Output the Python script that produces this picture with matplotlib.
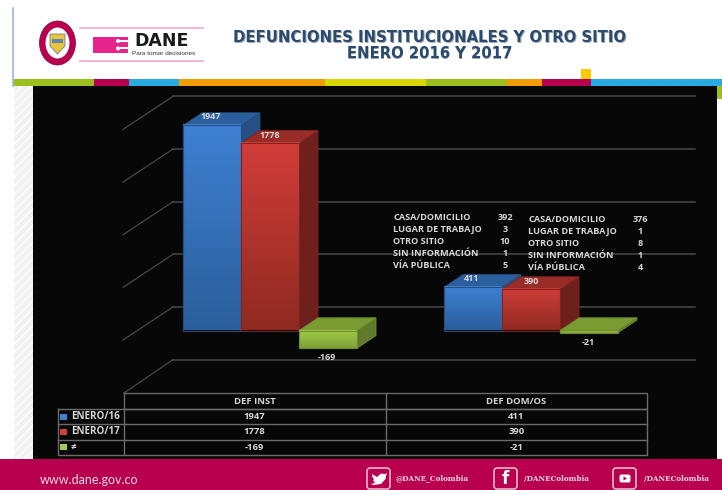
import numpy as np
import matplotlib
matplotlib.use('Agg')
import matplotlib.pyplot as plt
from matplotlib.patches import Rectangle, Ellipse, Polygon, FancyBboxPatch
from matplotlib.colors import LinearSegmentedColormap

# datos
categorias = ['DEF INST', 'DEF DOM/OS']
series = ['ENERO/16', 'ENERO/17', '≠']
enero16 = [1947, 411]
enero17 = [1778, 390]
diferencia = [-169, -21]
ticks_eje = [-500, 0, 500, 1000, 1500, 2000]

sitios = ['CASA/DOMICILIO', 'LUGAR DE TRABAJO', 'OTRO SITIO', 'SIN INFORMACIÓN', 'VÍA PÚBLICA']
sitios16 = [392, 3, 10, 1, 5]
sitios17 = [376, 1, 8, 1, 4]

titulo = ['DEFUNCIONES INSTITUCIONALES Y OTRO SITIO', 'ENERO 2016 Y 2017']

franjas = [(13, 94, '#9bbf1d'), (94, 129, '#b8004f'), (129, 179, '#29abe2'), (179, 325, '#f39c00'),
           (325, 426, '#dbd600'), (426, 507, '#9bbf1d'), (507, 542, '#f39c00'), (542, 591, '#b8004f'),
           (591, 722, '#29abe2')]

W, H = 722, 490
KY = 0.1053   # pixeles por defuncion
BASE = 330.5
BAR_W = 58.0
DX, DY = 19.0, 12.7
TXT = '#d6d6d6'

plt.rcParams['font.family'] = ['Open Sans', 'DejaVu Sans']

fig = plt.figure(figsize=(W / 100, H / 100), dpi=100, facecolor='white')

# capa de fondo en pixeles
bg = fig.add_axes([0, 0, 1, 1])
bg.set_xlim(0, W)
bg.set_ylim(H, 0)
bg.axis('off')

bg.plot([13, 13], [8, 86], color='#9db8e0', lw=1.2)
bg.add_patch(Rectangle((14, 86), 19, 373, facecolor='#f2f2f2', hatch='////', edgecolor='white', lw=0))
bg.add_patch(Rectangle((717, 86), 5, 13, color='#9bbf1d', lw=0))
for x0, x1, c in franjas:
    bg.add_patch(Rectangle((x0, 79), x1 - x0, 7, color=c, lw=0))
bg.add_patch(Rectangle((581, 69), 10, 10, color='#ffcc00', lw=0))
bg.add_patch(Rectangle((33, 86), 684, 373, color='#070707', lw=0))
bg.add_patch(Rectangle((0, 459), W, 31, color='#b8004f', lw=0))

# escudo
bg.add_patch(Ellipse((57.5, 43), 36, 44, facecolor='#b8004f', edgecolor='#8a003b', lw=0.5))
bg.add_patch(Ellipse((57.5, 43), 24, 31, facecolor='white', lw=0))
bg.add_patch(Polygon([(50, 34), (65, 34), (65, 46), (57.5, 54), (50, 46)], facecolor='#e8c53a',
                     edgecolor='#6f7f95', lw=0.6))
bg.add_patch(Rectangle((52, 39), 11, 4, color='#5b86b8', lw=0))

# logo DANE
for y in (28, 61):
    bg.plot([80, 203], [y, y], color='#f4a6c6', lw=1.2)
bg.add_patch(Rectangle((93, 37), 35, 16, color='#e6258c', lw=0))
for y in (41, 48.5):
    bg.add_patch(Rectangle((116, y - 1), 15, 2, color='white', lw=0))
    bg.add_patch(Ellipse((118, y), 4, 4, color='white', lw=0))
bg.text(162, 40.5, 'DANE', ha='center', va='center', fontsize=12.5, fontweight='black',
        family='DejaVu Sans', color='#1a1a1a')
bg.text(132, 53.5, 'Para tomar decisiones', ha='left', va='center', fontsize=4.6,
        family='Liberation Sans', color='#333333')

# titulo
for linea, y in zip(titulo, (38, 53.5)):
    bg.text(430, y + 0.6, linea, ha='center', va='center', fontsize=10.7, fontweight='bold',
            color='#9aa5b1', family='DejaVu Sans')
    bg.text(429.5, y, linea, ha='center', va='center', fontsize=10.7, fontweight='bold',
            color='#2b4a6f', family='DejaVu Sans')

# eje del grafico: x en barras, y en defunciones
ax = fig.add_axes([0, 0, 1, 1], facecolor='none')
ax.axis('off')
x_px = lambda p: (p - 183.0) / BAR_W
y_px = lambda p: (BASE - p) / KY
dx, dy = DX / BAR_W, DY / KY
sep = 261.0 / BAR_W

# pared y piso
for t in ticks_eje:
    yw = t + y_px(307)
    ax.plot([x_px(173), x_px(695)], [yw, yw], color='#484848', lw=1.1, zorder=1)
    if t == ticks_eje[0]:
        ax.plot([x_px(124), x_px(173)], [y_px(393), yw], color='#484848', lw=0.9, zorder=1)
    else:
        ax.plot([x_px(123), x_px(173)], [yw - 33 / KY, yw], color='#484848', lw=0.9, zorder=1)


def rampa(c1, c2):
    return LinearSegmentedColormap.from_list('r', [c1, c2])


def barra(x, v, frente, lado, arriba, borde, z):
    y0, y1 = min(0, v), max(0, v)
    ax.add_patch(Polygon([(x + 1, y0), (x + 1 + dx, y0 + dy), (x + 1 + dx, y1 + dy), (x + 1, y1)],
                         facecolor=lado, edgecolor=borde, lw=0.6, zorder=z))
    ax.add_patch(Polygon([(x, y1), (x + dx, y1 + dy), (x + 1 + dx, y1 + dy), (x + 1, y1)],
                         facecolor=arriba, edgecolor=borde, lw=0.6, zorder=z))
    grad = np.linspace(0, 1, 64).reshape(-1, 1)
    ax.imshow(grad, extent=(x, x + 1, y0, y1), origin='upper', aspect='auto',
              cmap=rampa(frente[0], frente[1]), zorder=z + 0.05)
    ax.add_patch(Rectangle((x, y0), 1, y1 - y0, fill=False, edgecolor=borde, lw=0.8, zorder=z + 0.1))


for i in range(len(categorias)):
    x = i * sep
    # azul primero, el rojo tapa su cara lateral
    barra(x, enero16[i], ('#3f80d2', '#2b5e9c'), '#274f85', '#2c5f9e', '#24507f', 3)
    barra(x + 1, enero17[i], ('#d13d39', '#8f2a22'), '#6e201c', '#9a2c28', '#7d2420', 4)
    barra(x + 2, diferencia[i], ('#a2cc4a', '#7f9f38'), '#5f7a2a', '#7a9a32', '#6f8c30', 5)

    ax.text(x + 0.48, enero16[i] + y_px(330.5 - 8.5), str(enero16[i]), ha='center', va='center',
            fontsize=6.5, fontweight='bold', color=TXT, zorder=8)
    ax.text(x + 1.5, enero17[i] + y_px(330.5 - 8), str(enero17[i]), ha='center', va='center',
            fontsize=6.5, fontweight='bold', color=TXT, zorder=8)
    ax.text(x + 2.48, diferencia[i] + y_px(330.5 + 9.5), str(diferencia[i]), ha='center', va='center',
            fontsize=6.5, fontweight='bold', color=TXT, zorder=8)

ax.set_xlim(x_px(0), x_px(W))
ax.set_ylim(y_px(H), y_px(0))

# desglose por sitio, encima de todo
for j, (nombre, a, b) in enumerate(zip(sitios, sitios16, sitios17)):
    y1 = 218 + j * 12
    y2 = 220 + j * 11.9
    estilo = {'ha': 'left', 'va': 'center', 'fontsize': 6.6, 'fontweight': 'bold', 'color': TXT, 'zorder': 9}
    ax.text(x_px(393), y_px(y1), nombre, **estilo)
    ax.text(x_px(505), y_px(y1), str(a), **{**estilo, 'ha': 'center'})
    ax.text(x_px(528), y_px(y2), nombre, **estilo)
    ax.text(x_px(640.5), y_px(y2), str(b), **{**estilo, 'ha': 'center'})

# tabla de datos
LINEA = '#6b6b6b'
filas_y = [409, 424, 439.5, 455]
ax2 = fig.add_axes([0, 0, 1, 1], facecolor='none')
ax2.set_xlim(0, W)
ax2.set_ylim(H, 0)
ax2.axis('off')
ax2.plot([124, 647, 647, 124, 124], [393, 393, 409, 409, 393], color=LINEA, lw=1)
ax2.plot([386, 386], [393, 455], color=LINEA, lw=1)
ax2.plot([124, 124], [409, 455], color=LINEA, lw=1)
ax2.plot([58, 647, 647, 58, 58], [409, 409, 455, 455, 409], color=LINEA, lw=1)
for y in filas_y[1:3]:
    ax2.plot([58, 647], [y, y], color=LINEA, lw=1)
ax2.text(254.5, 401.5, categorias[0], ha='center', va='center', fontsize=6.8, fontweight='bold', color=TXT)
ax2.text(516.5, 401.5, categorias[1], ha='center', va='center', fontsize=6.8, fontweight='bold', color=TXT)
colores = ['#3f80d2', '#d13d39', '#a2cc4a']
for k, (s, fila) in enumerate(zip(series, (enero16, enero17, diferencia))):
    yc = (filas_y[k] + filas_y[k + 1]) / 2
    ax2.add_patch(Rectangle((60, yc - 3), 6.5, 6, color=colores[k], lw=0))
    ax2.text(71, yc, s, ha='left', va='center', fontsize=7.1, fontweight='bold', color=TXT)
    ax2.text(254.5, yc, str(fila[0]), ha='center', va='center', fontsize=6.8, fontweight='bold', color=TXT)
    ax2.text(516.5, yc, str(fila[1]), ha='center', va='center', fontsize=6.8, fontweight='bold', color=TXT)

# pie
ax2.text(40, 479.5, 'www.dane.gov.co', ha='left', va='center', fontsize=9, color='#f3d9e4', family='Lato')
for x0, simbolo, txt, xt in [(367, '', '@DANE_Colombia', 396), (494, 'f', '/DANEColombia', 524),
                             (613, '', '/DANEColombia', 644)]:
    ax2.add_patch(FancyBboxPatch((x0 + 2, 470), 19, 17, boxstyle='round,pad=2,rounding_size=3',
                                 facecolor='none', edgecolor='#f3d9e4', lw=1))
    if simbolo:
        ax2.text(x0 + 11.5, 478.5, simbolo, ha='center', va='center', fontsize=12, fontweight='bold',
                 color='white', family='DejaVu Sans')
    ax2.text(xt, 478.5, txt, ha='left', va='center', fontsize=5.2, fontweight='bold',
             color='#f3d9e4', family='DejaVu Serif')
# pajaro de twitter
ax2.add_patch(Polygon([(372, 474), (377, 477), (381, 473.5), (385, 474), (387, 473), (386, 476), (385.5, 479),
                       (381, 484), (373, 485), (371, 484), (375, 483), (373, 480), (374, 479.5), (372.5, 477)],
                      color='white', lw=0))
ax2.add_patch(FancyBboxPatch((620, 475), 10, 7, boxstyle='round,pad=0.5,rounding_size=2', color='white', lw=0))
ax2.add_patch(Polygon([(623.5, 476.5), (623.5, 480.5), (627, 478.5)], color='#b8004f', lw=0))

fig.savefig('out.png', dpi=100, facecolor='white')
